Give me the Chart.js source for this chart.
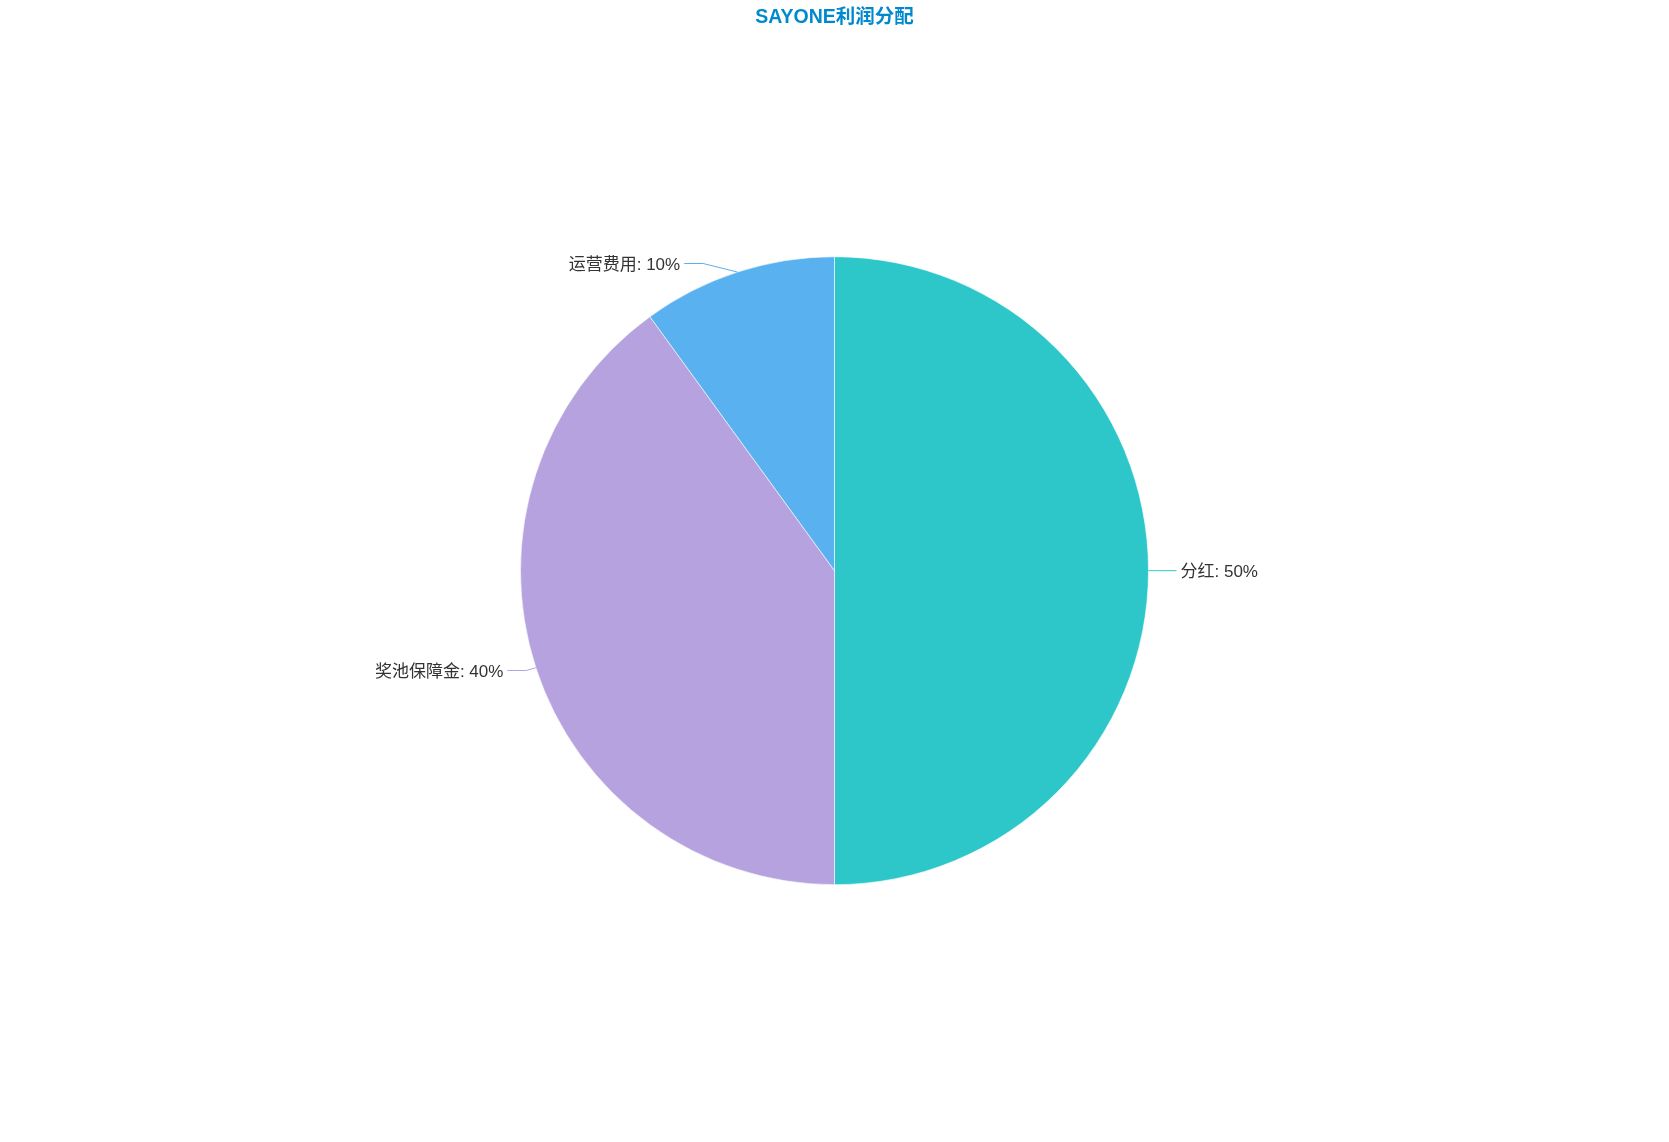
<!DOCTYPE html>
<html>
<head>
<meta charset="utf-8">
<title>SAYONE利润分配</title>
<script src="https://cdn.jsdelivr.net/npm/chart.js@4.4.1/dist/chart.umd.min.js"></script>
<style>
  html, body { margin: 0; padding: 0; background: #fff; }
  #wrap { width: 1669px; height: 1142px; }
</style>
</head>
<body>
<div id="wrap"><canvas id="chart"></canvas></div>
<script>
// chart data
const categories = ['分红', '奖池保障金', '运营费用'];
const shares = [50, 40, 10];
const sliceColors = ['#2ec7c9', '#b6a2de', '#5ab1ef'];
const titleText = 'SAYONE利润分配';

const fontFamily = '"Liberation Sans", "Noto Sans CJK SC", sans-serif';

// outside labels with two-part leader lines (length1 radial, length2 horizontal)
const outerLabels = {
  id: 'outerLabels',
  afterDatasetsDraw(chart, args, opts) {
    const ctx = chart.ctx;
    const meta = chart.getDatasetMeta(0);
    const len1 = opts.length1, len2 = opts.length2;
    ctx.save();
    ctx.font = opts.font;
    ctx.textBaseline = 'middle';
    meta.data.forEach((arc, i) => {
      const p = arc.getProps(['x', 'y', 'startAngle', 'endAngle', 'outerRadius'], true);
      const mid = (p.startAngle + p.endAngle) / 2;
      const dirX = Math.cos(mid), dirY = Math.sin(mid);
      const r = p.outerRadius;
      const side = dirX < 0 ? -1 : 1;
      const sx = p.x + r * dirX, sy = p.y + r * dirY;
      const ly = p.y + (r + len1) * dirY;
      const dy = Math.abs(ly - p.y);
      const reach = r + len1 + len2;
      const lx = dy < r + len1 ? p.x + side * Math.sqrt(reach * reach - dy * dy) : sx + side * (len1 + len2);
      const jx = lx - side * len2;

      ctx.strokeStyle = sliceColors[i];
      ctx.lineWidth = 1;
      ctx.beginPath();
      ctx.moveTo(sx, sy);
      ctx.lineTo(jx, ly);
      ctx.lineTo(lx, ly);
      ctx.stroke();

      const value = chart.data.datasets[0].data[i];
      ctx.fillStyle = opts.color;
      ctx.textAlign = side < 0 ? 'right' : 'left';
      ctx.fillText(chart.data.labels[i] + ': ' + value + '%', lx + side * opts.gap, ly + opts.shiftY);
    });
    ctx.restore();
  }
};

new Chart(document.getElementById('chart'), {
  type: 'pie',
  data: {
    labels: categories,
    datasets: [{
      data: shares,
      backgroundColor: sliceColors,
      borderColor: '#ffffff',
      borderWidth: 0.6,
      hoverOffset: 0
    }]
  },
  options: {
    responsive: true,
    maintainAspectRatio: false,
    animation: false,
    events: [],
    layout: { padding: { top: 1, bottom: 257, left: 0, right: 0 } },
    plugins: {
      legend: { display: false },
      tooltip: { enabled: false },
      title: {
        display: true,
        text: titleText,
        color: '#008acd',
        font: { family: fontFamily, size: 19.5, weight: 'bold', lineHeight: 1.2 },
        padding: { top: 5, bottom: 227 }
      },
      outerLabels: {
        length1: 9,
        length2: 19,
        gap: 4,
        shiftY: 2,
        color: '#333333',
        font: '17px ' + fontFamily
      }
    }
  },
  plugins: [outerLabels]
});
</script>
</body>
</html>
